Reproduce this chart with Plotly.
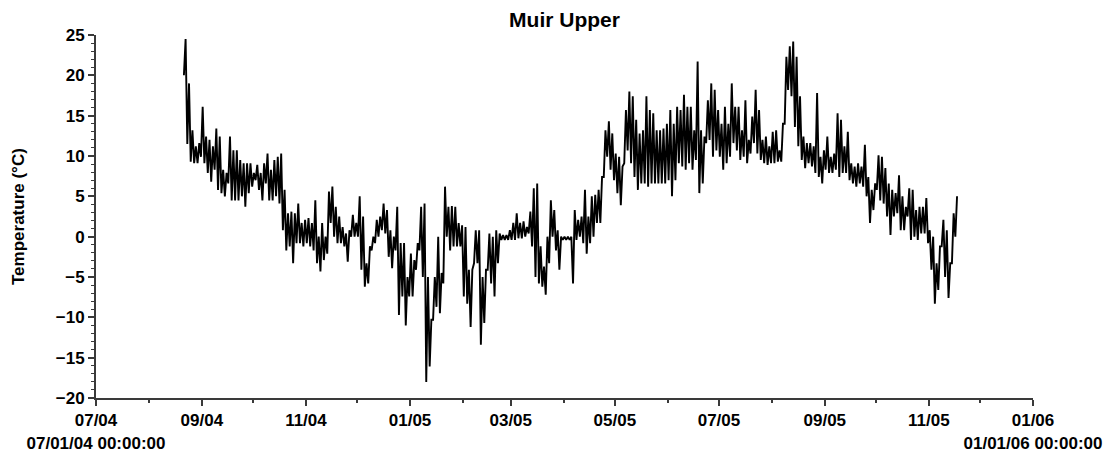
import pandas as pd
import plotly.graph_objects as go

# ---- data (2-day bins: low / high in deg C) ----
series_start = "2004-08-21"
bin_days = 2

temp_high = [
    24.5, 19.0, 13.2, 11.2, 11.6, 16.1, 12.4, 12.0, 11.2, 13.4,
    12.4, 8.3, 7.9, 12.4, 10.7, 10.7, 9.5, 9.1, 9.1, 9.1,
    7.9, 8.9, 7.9, 9.1, 10.3, 8.3, 9.5, 9.9, 10.3, 5.8,
    2.9, 3.1, 2.9, 4.1, 1.7, 2.1, 2.3, 1.7, 4.5, 0.0,
    1.7, 0.0, 5.6, 6.2, 3.7, 2.5, 1.2, 0.4, 0.8, 2.7,
    1.7, 5.0, 2.5, -3.3, -1.2, 0.0, 2.1, 2.5, 4.1, 3.3,
    0.8, 0.0, 3.7, -0.8, -0.8, -5.0, -2.1, -2.9, -0.8, 3.7,
    4.1, -5.0, -10.3, -5.0, 0.0, -4.5, 6.2, 3.7, 3.8, 3.7,
    1.7, 1.4, 1.2, -4.1, -4.1, 0.8, 0.8, -5.0, -4.1, 0.4,
    0.0, 0.8, 0.4, 0.2, 0.2, 0.8, 1.7, 2.9, 1.7, 1.9,
    1.2, 3.1, 6.0, 6.6, -1.2, -3.7, 0.0, 4.5, 3.3, 0.8,
    0.0, 0.0, 0.0, 0.0, 3.3, 2.1, 2.5, 5.8, 2.5, 5.0,
    5.2, 5.8, 7.4, 13.2, 14.3, 12.8, 10.3, 9.9, 8.7, 15.7,
    18.0, 17.4, 14.5, 12.8, 13.2, 17.4, 15.7, 15.3, 13.2, 13.2,
    13.4, 14.0, 15.7, 14.0, 16.1, 15.7, 17.6, 16.1, 16.1, 13.2,
    21.7, 13.2, 12.4, 16.9, 19.0, 18.2, 15.7, 14.0, 16.1, 14.0,
    19.0, 16.1, 16.1, 13.2, 16.9, 12.0, 14.9, 18.2, 15.7, 12.0,
    12.4, 11.2, 13.0, 13.2, 10.7, 14.0, 22.3, 23.6, 24.2, 22.3,
    17.4, 12.4, 11.6, 11.6, 11.2, 17.8, 9.9, 10.7, 12.4, 9.9,
    10.3, 15.3, 14.5, 11.2, 13.0, 9.1, 8.7, 9.1, 8.7, 11.4,
    7.4, 5.8, 6.6, 10.1, 9.9, 8.5, 6.6, 5.8, 5.4, 7.6,
    5.0, 3.7, 6.0, 5.8, 3.3, 3.7, 3.7, 4.8, 0.8, 0.0,
    -3.3, -1.2, 2.1, 0.8, -3.3, 2.9, 5.0,
]

temp_low = [
    20.0, 11.5, 9.3, 9.1, 9.1, 9.9, 9.1, 7.9, 6.8, 8.3,
    5.8, 5.4, 5.0, 6.6, 4.5, 4.5, 4.5, 5.0, 3.7, 5.4,
    6.2, 7.0, 5.8, 4.5, 6.6, 4.5, 4.5, 5.0, 4.1, 0.8,
    -1.7, -1.2, -3.3, -0.8, -0.8, -1.2, -0.8, -1.2, -1.7, -3.3,
    -4.3, -2.9, -2.1, 1.7, 0.0, -0.8, -0.8, -1.2, -3.1, 0.0,
    0.0, 0.0, -4.1, -6.2, -5.8, -1.7, -0.8, 0.0, 0.8, 0.4,
    -2.5, -3.9, -1.7, -9.7, -7.4, -11.0, -7.4, -7.4, -4.1, -1.7,
    -5.0, -18.0, -16.1, -10.3, -8.7, -9.5, -5.8, 0.0, -1.7, -1.2,
    -1.2, -1.2, -7.4, -8.3, -11.2, -3.3, -3.3, -13.4, -10.7, -4.1,
    -5.8, -7.4, -3.3, -0.4, -0.4, -0.4, -0.4, -0.4, -0.2, -0.2,
    0.0, 0.4, -1.2, -5.0, -5.8, -6.2, -7.2, -3.3, 0.0, -1.7,
    -4.1, -0.4, -0.4, -0.4, -5.8, -0.4, 0.0, -0.8, -2.1, -0.8,
    0.0, 1.7, 1.7, 7.4, 9.9, 8.3, 7.0, 5.4, 3.9, 9.1,
    10.7, 9.1, 7.4, 5.8, 6.6, 6.6, 6.2, 6.6, 6.6, 6.6,
    6.6, 6.6, 7.0, 5.0, 7.0, 9.1, 8.7, 8.3, 9.1, 8.3,
    9.5, 5.4, 6.6, 11.6, 12.0, 9.9, 10.7, 9.9, 8.3, 9.1,
    9.9, 11.6, 10.7, 9.5, 9.9, 9.1, 10.3, 11.6, 10.3, 9.5,
    9.1, 8.9, 9.1, 9.1, 9.3, 9.3, 14.0, 18.2, 17.4, 13.6,
    11.2, 9.5, 8.5, 9.1, 8.7, 7.9, 7.4, 6.6, 8.3, 7.9,
    7.9, 8.3, 7.4, 7.9, 7.9, 7.0, 6.6, 6.2, 6.6, 6.2,
    5.0, 1.7, 3.3, 5.8, 4.5, 4.1, 2.5, 0.2, 2.5, 2.9,
    0.8, 0.8, 2.5, -0.4, 0.0, -0.4, 0.4, 0.4, -0.8, -4.1,
    -8.3, -6.6, -1.2, -5.0, -7.6, -3.3, 0.0,
]

tick_dates = ["2004-07-01", "2004-09-01", "2004-11-01", "2005-01-01", "2005-03-01",
              "2005-05-01", "2005-07-01", "2005-09-01", "2005-11-01", "2006-01-01"]
tick_labels = ["07/04<br>07/01/04 00:00:00", "09/04", "11/04", "01/05", "03/05",
               "05/05", "07/05", "09/05", "11/05", "01/06<br>01/01/06 00:00:00"]

# ---- build the trace: low then high inside each bin ----
start = pd.Timestamp(series_start)
times, values = [], []
for k, (lo, hi) in enumerate(zip(temp_low, temp_high)):
    times.append(start + pd.Timedelta(days=bin_days * k + 0.5))
    values.append(lo)
    times.append(start + pd.Timedelta(days=bin_days * k + 1.5))
    values.append(hi)

FONT = "Liberation Sans"
AXC = "#3a3a3a"

# the page body has an 8px margin, so the figure is 8px smaller than the window
W, H = 1103, 443

fig = go.Figure()
fig.add_trace(go.Scatter(x=times, y=values, mode="lines",
                         line=dict(color="black", width=1.9), showlegend=False))

fig.update_layout(
    width=W, height=H,
    margin=dict(l=88, r=78, t=27, b=53, autoexpand=False),
    plot_bgcolor="white", paper_bgcolor="white",
    font=dict(family=FONT, color="black"),
    title=dict(text="Muir Upper", x=0.5, xref="paper", xanchor="center",
               y=1 - 4.0 / H, yref="container", yanchor="top",
               font=dict(family=FONT, size=21, weight="bold", color="black")),
    xaxis=dict(
        type="date", range=["2004-07-01", "2006-01-01"], automargin=False,
        tickmode="array", tickvals=tick_dates, ticktext=tick_labels,
        showgrid=False, zeroline=False,
        showline=True, linecolor=AXC, linewidth=2,
        ticks="outside", ticklen=6, tickwidth=1.5, tickcolor=AXC,
        tickfont=dict(family=FONT, size=17, weight="bold", color="black"),
        minor=dict(tickmode="linear", tick0="2004-07-01", dtick="M1",
                   ticks="outside", ticklen=3, tickwidth=1.5, tickcolor=AXC,
                   showgrid=False),
        fixedrange=True,
    ),
    yaxis=dict(
        range=[-20, 25], tickmode="linear", tick0=0, dtick=5, automargin=False,
        showgrid=False, zeroline=False,
        showline=True, linecolor=AXC, linewidth=2,
        ticks="outside", ticklen=6, tickwidth=1.5, tickcolor=AXC,
        tickfont=dict(family=FONT, size=17, weight="bold", color="black"),
        minor=dict(tickmode="linear", tick0=0, dtick=1,
                   ticks="outside", ticklen=3, tickwidth=1, tickcolor=AXC,
                   showgrid=False),
        fixedrange=True,
    ),
    annotations=[dict(
        text="Temperature (°C)", textangle=-90,
        xref="paper", yref="paper", x=0, y=0.5, xshift=-77.5,
        xanchor="center", yanchor="middle", showarrow=False,
        font=dict(family=FONT, size=17, weight="bold", color="black"),
    )],
)

fig.write_html("out.html")
